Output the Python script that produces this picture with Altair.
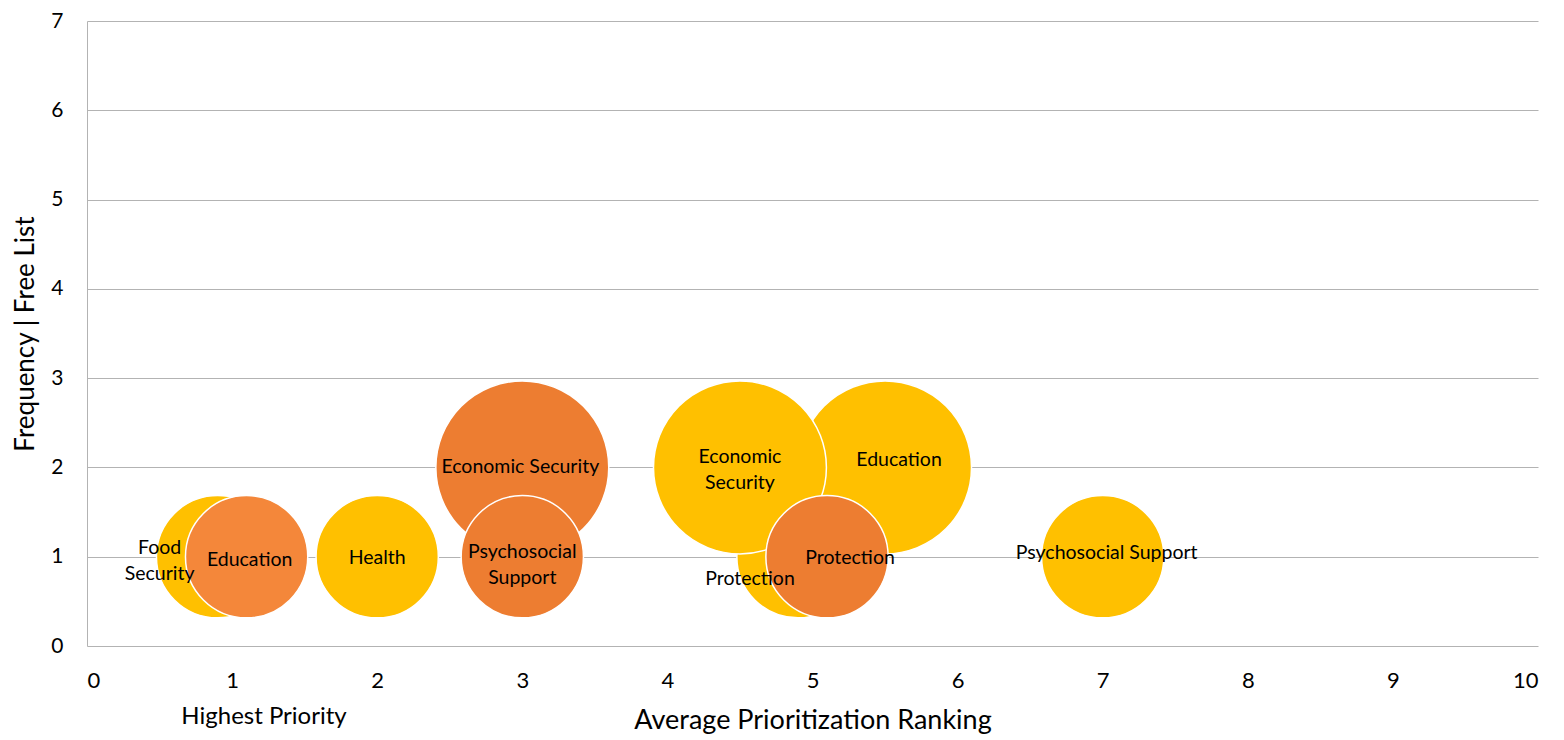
import altair as alt
import pandas as pd

# ---- data ----
yellow_names = ["Protection", "Education", "Economic Security", "Food Security", "Health", "Psychosocial Support"]
yellow_labels = ["Protection", "Education", "Economic\nSecurity", "Food\nSecurity", "Health", "Psychosocial Support"]
yellow_x = [4.9, 5.5, 4.5, 0.9, 2.0, 7.0]
yellow_y = [1, 2, 2, 1, 1, 1]
yellow_size = [1, 2, 2, 1, 1, 1]

orange_names = ["Economic Security", "Psychosocial Support", "Education", "Protection"]
orange_labels = ["Economic Security", "Psychosocial\nSupport", "Education", "Protection"]
orange_x = [3.0, 3.0, 1.1, 5.1]
orange_y = [2, 1, 1, 1]
orange_size = [2, 1, 1, 1]

x_ticks = list(range(0, 11))
y_ticks = list(range(0, 8))

# ---- styles ----
YELLOW = "#FFC000"
ORANGE = "#ED7D31"
ORANGE_LIGHT = "#F4873A"
GRID = "#B3B3B3"
FONT = "Lato"
W, H = 1451, 625

# label pixel offsets (dx, dy) per bubble, styling only
label_offsets = {
    ("Highest", "Protection"): (-48, 22),
    ("Highest", "Education"): (14, -7),
    ("Highest", "Economic Security"): (0, -10),
    ("Highest", "Food Security"): (-58, -9),
    ("Highest", "Health"): (0, 1),
    ("Highest", "Psychosocial Support"): (4, -4),
    ("Average", "Economic Security"): (-2, 0),
    ("Average", "Psychosocial Support"): (0, -5),
    ("Average", "Education"): (3, 3),
    ("Average", "Protection"): (23, 1),
}

yellow_df = pd.DataFrame({"series": "Highest", "name": yellow_names, "label": yellow_labels,
                          "x": yellow_x, "y": yellow_y, "size": yellow_size})
orange_df = pd.DataFrame({"series": "Average", "name": orange_names, "label": orange_labels,
                          "x": orange_x, "y": orange_y, "size": orange_size})
df = pd.concat([yellow_df, orange_df], ignore_index=True)

x_enc = alt.X("x:Q", scale=alt.Scale(domain=[0, 10], nice=False),
              axis=alt.Axis(values=x_ticks, format="d", grid=False, ticks=False, domain=False,
                            labelFontSize=22, labelFont=FONT, labelColor="#000000", labelPadding=24,
                            title="Average Prioritization Ranking", titleFontSize=27, titleFont=FONT,
                            titleFontWeight="normal", titleColor="#000000", titlePadding=16))
y_enc = alt.Y("y:Q", scale=alt.Scale(domain=[0, 7], nice=False),
              axis=alt.Axis(values=y_ticks, format="d", grid=True, gridColor=GRID, gridWidth=1, ticks=False,
                            domain=True, domainColor=GRID, domainWidth=1,
                            labelFontSize=21, labelFont=FONT, labelColor="#000000", labelPadding=24,
                            title="Frequency | Free List", titleFontSize=26, titleFont=FONT,
                            titleFontWeight="normal", titleColor="#000000", titlePadding=12))
size_enc = alt.Size("size:Q", scale=alt.Scale(domain=[0, 2], range=[0, 29900]), legend=None)

yellow_layer = alt.Chart(yellow_df).mark_circle(opacity=1, stroke="white", strokeWidth=1.5, color=YELLOW).encode(
    x=x_enc, y=y_enc, size=size_enc)

orange_layer = alt.Chart(orange_df).mark_circle(opacity=1, stroke="white", strokeWidth=1.5).encode(
    x="x:Q", y="y:Q", size=size_enc,
    color=alt.condition(alt.datum.name == "Education", alt.value(ORANGE_LIGHT), alt.value(ORANGE)))

text_layers = []
for (series, name), (dx, dy) in label_offsets.items():
    t = alt.Chart(df).transform_filter(
        (alt.datum.series == series) & (alt.datum.name == name)
    ).mark_text(font=FONT, fontSize=19.5, color="#000000", lineBreak="\n", dx=dx, dy=dy,
                align="center", baseline="middle", lineHeight=26).encode(
        x="x:Q", y="y:Q", text="label:N")
    text_layers.append(t)

highest = alt.Chart(pd.DataFrame({"t": ["Highest Priority"]})).mark_text(
    font=FONT, fontSize=24, color="#000000", align="center", baseline="middle").encode(
    x=alt.datum(1.22), y=alt.value(H + 71), text="t:N")

chart = alt.layer(yellow_layer, orange_layer, *text_layers, highest).properties(
    width=W, height=H,
    autosize=alt.AutoSizeParams(type="none"),
    padding={"left": 79, "top": 13, "right": 10, "bottom": 92},
).configure_view(stroke=None)

chart.save("out.html", embed_options={"renderer": "svg", "actions": False})
